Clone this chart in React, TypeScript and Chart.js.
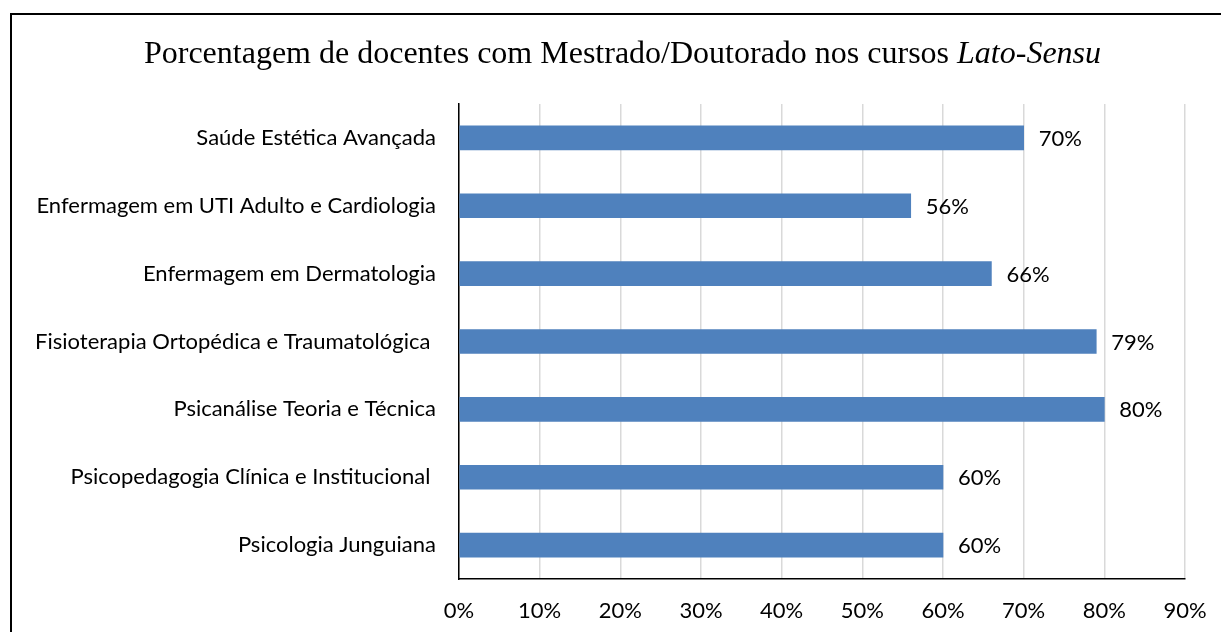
import React, { useEffect, useRef } from "react";
import { Chart, registerables } from "chart.js";

Chart.register(...registerables);

const categories = [
  "Saúde Estética Avançada",
  "Enfermagem em UTI Adulto e Cardiologia",
  "Enfermagem em Dermatologia",
  "Fisioterapia Ortopédica e Traumatológica ",
  "Psicanálise Teoria e Técnica",
  "Psicopedagogia Clínica e Institucional ",
  "Psicologia Junguiana",
];
const values = [70, 56, 66, 79, 80, 60, 60];
const titleMain = "Porcentagem de docentes com Mestrado/Doutorado nos cursos ";
const titleItalic = "Lato-Sensu";
const xMax = 90;
const xStep = 10;

const LABEL_FONT = "Lato, 'Open Sans', sans-serif";
const TITLE_FONT = "'Liberation Serif', 'DejaVu Serif', serif";
const TITLE_SIZE = 32;

const titlePlugin = {
  id: "customTitle",
  afterDraw(chart: any) {
    const ctx = chart.ctx;
    ctx.save();
    ctx.fillStyle = "#000";
    ctx.textBaseline = "alphabetic";
    ctx.textAlign = "left";
    ctx.font = `${TITLE_SIZE}px ${TITLE_FONT}`;
    const w1 = ctx.measureText(titleMain).width;
    ctx.font = `italic ${TITLE_SIZE}px ${TITLE_FONT}`;
    const w2 = ctx.measureText(titleItalic).width;
    const start = 622.5 - (w1 + w2) / 2;
    ctx.font = `${TITLE_SIZE}px ${TITLE_FONT}`;
    ctx.fillText(titleMain, start, 63);
    ctx.font = `italic ${TITLE_SIZE}px ${TITLE_FONT}`;
    ctx.fillText(titleItalic, start + w1, 63);
    ctx.restore();
  },
};

const valueLabelPlugin = {
  id: "valueLabels",
  afterDatasetsDraw(chart: any) {
    const ctx = chart.ctx;
    const meta = chart.getDatasetMeta(0);
    ctx.save();
    ctx.fillStyle = "#000";
    ctx.font = `22px ${LABEL_FONT}`;
    ctx.textAlign = "left";
    ctx.textBaseline = "middle";
    meta.data.forEach((bar: any, i: number) => {
      ctx.fillText(`${values[i]}%`, bar.x + 15, bar.y + 1);
    });
    ctx.restore();
  },
};

export default function App() {
  const ref = useRef<HTMLCanvasElement>(null);
  useEffect(() => {
    if (!ref.current) return;
    const chart = new Chart(ref.current, {
      type: "bar",
      data: {
        labels: categories,
        datasets: [
          {
            data: values,
            backgroundColor: "#4F81BD",
            borderWidth: 0,
            barThickness: 24,
          },
        ],
      },
      options: {
        indexAxis: "y",
        animation: false,
        responsive: false,
        maintainAspectRatio: false,
        layout: { padding: { top: 104, right: 36, left: 0, bottom: 0 } },
        plugins: {
          legend: { display: false },
          title: { display: false },
          tooltip: { enabled: false },
        },
        scales: {
          x: {
            min: 0,
            max: xMax,
            ticks: {
              stepSize: xStep,
              padding: 19,
              color: "#000",
              font: { family: LABEL_FONT, size: 22 },
              callback: (v: any) => `${v}%`,
            },
            grid: { color: "#D9D9D9", lineWidth: 1.5, drawTicks: false },
            border: { color: "#000", width: 1.5 },
            afterFit: (s: any) => {
              s.height = 53;
              s.paddingRight = 0;
              s.paddingLeft = 0;
            },
          },
          y: {
            ticks: {
              padding: 23,
              color: "#000",
              font: { family: LABEL_FONT, size: 22 },
            },
            grid: { display: false, drawTicks: false },
            border: { color: "#000", width: 1.5 },
            afterFit: (s: any) => {
              s.width = 459;
            },
          },
        },
      },
      plugins: [titlePlugin, valueLabelPlugin],
    });
    return () => chart.destroy();
  }, []);
  return (
    <div style={{ position: "absolute", left: 0, top: 0, width: 1221, height: 632, overflow: "hidden", background: "#fff" }}>
      <canvas ref={ref} width={1221} height={632} style={{ position: "absolute", left: 0, top: 0 }} />
      <div
        style={{
          position: "absolute",
          left: 10,
          top: 13,
          width: 1220,
          height: 700,
          border: "2px solid #000",
          pointerEvents: "none",
        }}
      />
    </div>
  );
}
